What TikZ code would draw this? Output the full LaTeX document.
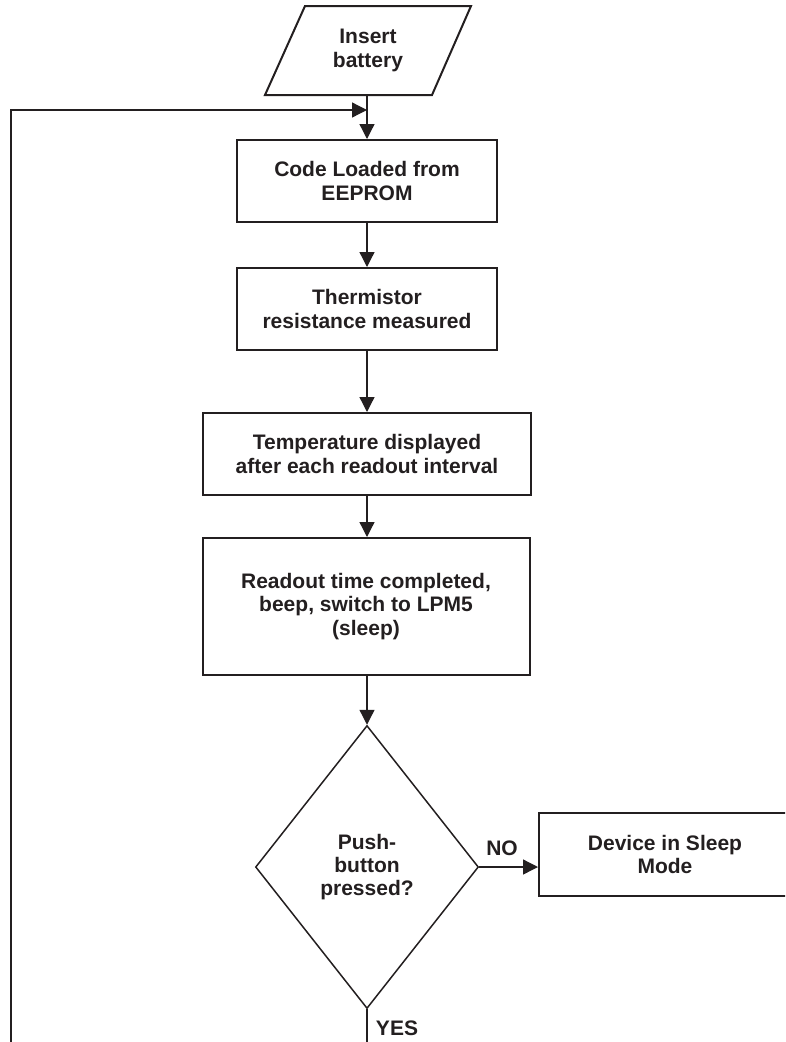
\documentclass[tikz,border=0pt]{standalone}
\usepackage{fontspec}
\setmainfont{Liberation Sans}
\usetikzlibrary{shapes.geometric,arrows.meta,calc}
\definecolor{ink}{HTML}{231F20}
\begin{document}
\begin{tikzpicture}[x=1pt,y=-1pt,
  txt/.style={font=\fontsize{21}{23.3}\selectfont\bfseries, text=ink, align=center},
  procbox/.style={txt, draw=ink, line width=2pt, inner sep=0pt},
  decbox/.style={txt, draw=ink, line width=1.5pt, shape=diamond, inner sep=0pt},
  conn/.style={draw=ink, line width=1.3pt},
  arr/.style={conn, -{Triangle[length=15pt,width=15pt]}}
]
\useasboundingbox (0,0) rectangle (785,1042);
\clip (0,0) rectangle (785,1042);

% input parallelogram
\node[txt, minimum width=166pt, minimum height=89pt, inner sep=0pt] (bat) at (368,50.5) {Insert\\battery};
\draw[draw=ink, line width=2pt, line join=miter]
  ($(bat.center)+(-63,-44.5)$) -- ($(bat.center)+(103,-44.5)$) --
  ($(bat.center)+(64,44.5)$) -- ($(bat.center)+(-103,44.5)$) -- cycle;
\coordinate (batbot) at (367,95);

\node[procbox, minimum width=260pt, minimum height=82pt] (b1) at (367,181) {Code Loaded from\\EEPROM};
\node[procbox, minimum width=260pt, minimum height=82pt] (b2) at (367,309) {Thermistor\\resistance measured};
\node[procbox, minimum width=328pt, minimum height=82pt] (b3) at (367,454) {Temperature displayed\\after each readout interval};
\node[procbox, minimum width=327pt, minimum height=137pt] (b4) at (366,606.5) {Readout time completed,\\beep, switch to LPM5\\(sleep)};
\node[decbox, minimum width=223pt, minimum height=283pt] (dec) at (367,867) {Push-\\button\\pressed?};
\node[procbox, minimum width=252pt, minimum height=83pt] (sleep) at (665,854.5) {Device in Sleep\\Mode};

\node[txt] (no) at (502,848) {NO};
\node[txt] (yes) at (397,1028) {YES};

% connectors
\coordinate (join) at (367,110);
\coordinate (yesend) at (367,1042);
\coordinate (loopbot) at (11,1042);
\coordinate (looptop) at (11,110);

\draw[arr] (batbot) -- (b1.north);
\draw[arr] (loopbot) -- (looptop) -- (join);
\draw[arr] (b1.south) -- (b2.north);
\draw[arr] (b2.south) -- (b3.north);
\draw[arr] (b3.south) -- (b3.south |- b4.north);
\draw[arr] (367,675) -- (dec.north);
\draw[arr] (dec.east) -- (dec.east -| sleep.west);
\draw[conn] (dec.south) -- (yesend);
\end{tikzpicture}
\end{document}
